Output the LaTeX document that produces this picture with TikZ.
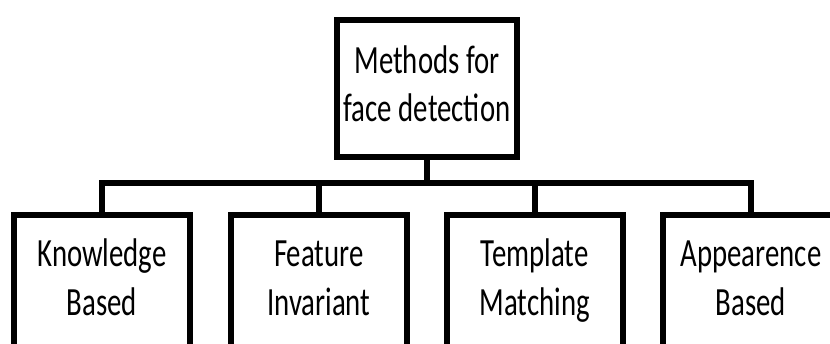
\documentclass[tikz,border=0pt]{standalone}
\usepackage{fontspec}
\setmainfont{Carlito}[FakeStretch=0.72]
\begin{document}
\begin{tikzpicture}[x=1pt,y=-1pt,
  boxstyle/.style={draw=black, line width=6pt, fill=white, inner sep=0pt},
  lbl/.style={font=\fontsize{40}{48.4}\selectfont, align=center, inner sep=0pt, anchor=base},
  conn/.style={draw=black, line width=6pt}]
\useasboundingbox (0,0) rectangle (830,343);
\clip (0,0) rectangle (830,343);
% top box
\node[boxstyle, minimum width=180pt, minimum height=136.5pt, anchor=north] (top) at (427,17) {};
\node[lbl] (toptext) at (427,121.7) {Methods for\\face detection};
% bottom boxes
\foreach \n/\x/\a/\b in {kb/102/Knowledge/Based, fi/318.8/Feature/Invariant, tm/534.8/Template/Matching, ab/751/Appearence/Based}{
  \node[boxstyle, minimum width=175.5pt, minimum height=160pt, anchor=north] (\n) at (\x,211.5) {};
  \node[lbl] (\n text) at (\x,315) {\a\\\b};
}
\coordinate (j) at (427,182.5);
\draw[conn] (top.south) -- (j);
\draw[conn] (kb.north) -- (kb.north |- j) -- (ab.north |- j) -- (ab.north);
\draw[conn] (fi.north) -- (fi.north |- j);
\draw[conn] (tm.north) -- (tm.north |- j);
\end{tikzpicture}
\end{document}
